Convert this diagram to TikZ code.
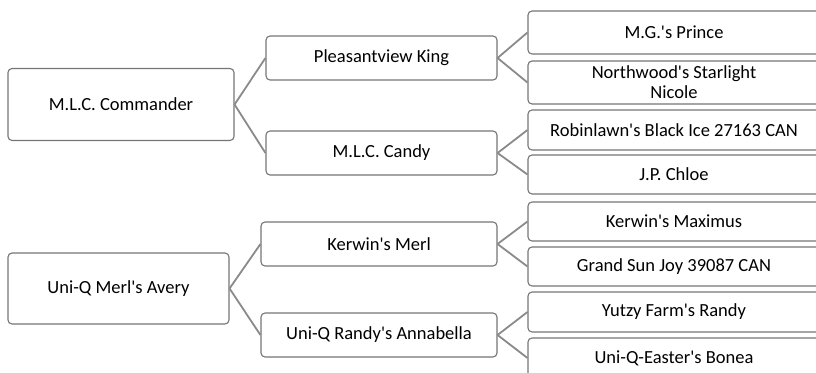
\documentclass[tikz,border=0pt]{standalone}
\usepackage{fontspec}
\setmainfont{Carlito}[Ligatures=TeXOff]
\definecolor{boxline}{RGB}{118,118,118}
\definecolor{linkgray}{RGB}{138,138,138}
\tikzset{
	famebox/.style={draw=boxline, fill=white, rounded corners=4pt, align=center, inner sep=2pt, line width=1.1pt,
		font=\fontsize{18.5}{20}\selectfont},
	rootbox/.style={famebox, minimum height=72pt},
	sirebox/.style={famebox, minimum height=44pt},
	leafbox/.style={famebox, minimum width=292pt, minimum height=40pt},
	link/.style={draw=linkgray, line width=1.8pt}
}
\begin{document}
\begin{tikzpicture}[x=1pt, y=-1pt]
	\clip (0,0) rectangle (816,372);
	
	%% -- first pedigree
	\node[rootbox, minimum width=226pt] (cmdr) at (121,104.5) {M.L.C. Commander};
	\node[sirebox, minimum width=231pt] (king) at (381.5,58) {Pleasantview King};
	\node[sirebox, minimum width=231pt] (candy) at (381.5,153) {M.L.C. Candy};
	\node[leafbox, minimum height=43pt] (prince) at (674,32.5) {M.G.'s Prince};
	\node[leafbox, minimum height=43pt] (nicole) at (674,82.5) {Northwood's Starlight\\Nicole};
	\node[leafbox] (ice) at (674,130) {Robinlawn's Black Ice 27163 CAN};
	\node[leafbox, minimum height=39pt] (chloe) at (674,174.5) {J.P. Chloe};
	
	\draw[link] (cmdr.east) -- (king.west);
	\draw[link] (cmdr.east) -- (candy.west);
	\draw[link] (king.east) -- (prince.west);
	\draw[link] (king.east) -- (nicole.west);
	\draw[link] (candy.east) -- (ice.west);
	\draw[link] (candy.east) -- (chloe.west);
	
	%% -- second pedigree
	\node[rootbox, minimum width=221pt, minimum height=71pt] (avery) at (118.5,288.5) {Uni-Q Merl's Avery};
	\node[sirebox, minimum width=236pt] (merl) at (379,244) {Kerwin's Merl};
	\node[sirebox, minimum width=236pt] (annabella) at (379,335) {Uni-Q Randy's Annabella};
	\node[leafbox, minimum height=39pt] (maximus) at (674,221.5) {Kerwin's Maximus};
	\node[leafbox, minimum height=39pt] (sunjoy) at (674,266.5) {Grand Sun Joy 39087 CAN};
	\node[leafbox] (randy) at (674,312) {Yutzy Farm's Randy};
	\node[leafbox] (bonea) at (674,358) {Uni-Q-Easter's Bonea};
	
	\draw[link] (avery.east) -- (merl.west);
	\draw[link] (avery.east) -- (annabella.west);
	\draw[link] (merl.east) -- (maximus.west);
	\draw[link] (merl.east) -- (sunjoy.west);
	\draw[link] (annabella.east) -- (randy.west);
	\draw[link] (annabella.east) -- (bonea.west);
\end{tikzpicture}
\end{document}
